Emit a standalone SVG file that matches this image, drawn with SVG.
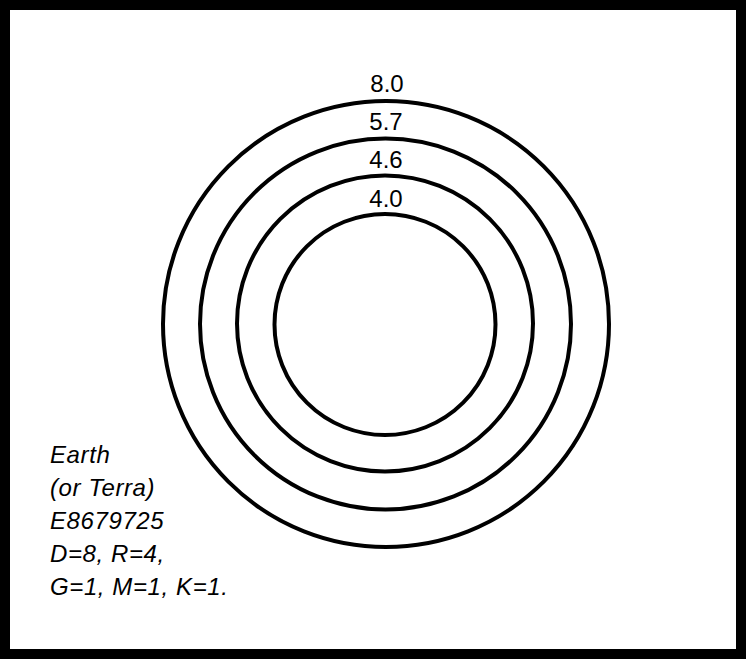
<svg xmlns="http://www.w3.org/2000/svg" width="746" height="659" viewBox="0 0 746 659">
<style>
.ring{fill:none;stroke:#000;stroke-width:4}
.lbl{font-family:"Liberation Sans",Arial,sans-serif;font-size:24px;fill:#000;text-anchor:middle}
.info{font-family:"Liberation Sans",Arial,sans-serif;font-size:24px;font-style:italic;fill:#000;letter-spacing:0.6px}
</style>
<rect x="5" y="5" width="736" height="649" fill="#fff" stroke="#000" stroke-width="10"/>
<g id="ring-8.0"><circle class="ring" cx="386" cy="324" r="223"/><text class="lbl" x="387" y="92">8.0</text></g>
<g id="ring-5.7"><circle class="ring" cx="385.5" cy="324" r="185.5"/><text class="lbl" x="386" y="130">5.7</text></g>
<g id="ring-4.6"><circle class="ring" cx="385" cy="323.5" r="148"/><text class="lbl" x="386" y="168">4.6</text></g>
<g id="ring-4.0"><circle class="ring" cx="385" cy="324.5" r="110.5"/><text class="lbl" x="386" y="207">4.0</text></g>
<g id="info">
<text class="info" x="50" y="463">Earth</text>
<text class="info" x="50" y="496">(or Terra)</text>
<text class="info" x="50" y="529">E8679725</text>
<text class="info" x="50" y="562">D=8, R=4,</text>
<text class="info" x="50" y="595">G=1, M=1, K=1.</text>
</g>
</svg>
